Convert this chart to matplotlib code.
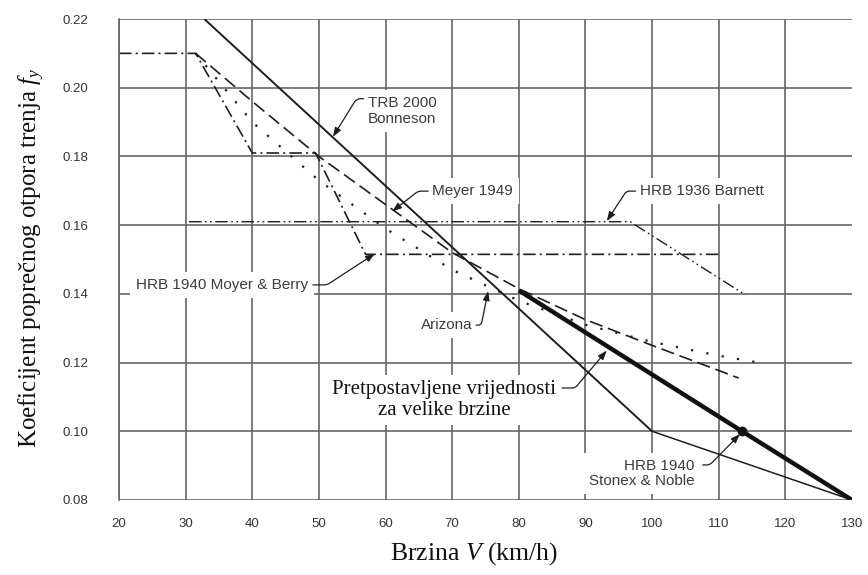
import numpy as np
import matplotlib
matplotlib.use("Agg")
import matplotlib.pyplot as plt

plt.rcParams["font.family"] = ["Liberation Sans", "DejaVu Sans"]
plt.rcParams["mathtext.fontset"] = "custom"
plt.rcParams["mathtext.rm"] = "Liberation Serif"
plt.rcParams["mathtext.it"] = "Liberation Serif:italic"

# ---- data ----
x_ticks = [20, 30, 40, 50, 60, 70, 80, 90, 100, 110, 120, 130]
y_ticks = [0.08, 0.10, 0.12, 0.14, 0.16, 0.18, 0.20, 0.22]

trb_x = [32.8, 100]
trb_y = [0.22, 0.10]
stonex_x = [100, 130]
stonex_y = [0.10, 0.08]
assumed_x = [80, 113.5, 130]
assumed_y = [0.141, 0.100, 0.080]
barnett_x = [30.5, 96.7, 114]
barnett_y = [0.161, 0.161, 0.1397]
moyer_x = [20, 31.5, 40, 49.5, 57, 110.5]
moyer_y = [0.21, 0.21, 0.181, 0.181, 0.1515, 0.1515]
meyer_x = [31.5, 40, 50, 60, 70, 80, 90, 100, 113]
meyer_y = [0.21, 0.196, 0.18, 0.166, 0.152, 0.1415, 0.1325, 0.125, 0.1155]
arizona_x = [31.5, 40, 50, 60, 70, 80, 90, 100, 110, 116]
arizona_y = [0.21, 0.19, 0.173, 0.159, 0.147, 0.138, 0.131, 0.126, 0.122, 0.12]

W, H = 868, 575
fig = plt.figure(figsize=(W / 100, H / 100), dpi=100)
ax = fig.add_axes([119 / W, 75 / H, 733 / W, 481 / H])

gridc = "#666666"
linec = "#1e1e1e"
textc = "#3c3c3c"

ax.set_xlim(20, 130)
ax.set_ylim(0.08, 0.22)
ax.set_xticks(x_ticks)
ax.set_yticks(y_ticks)
ax.set_xticklabels([str(v) for v in x_ticks])
ax.set_yticklabels(["%.2f" % v for v in y_ticks])
ax.tick_params(length=0, labelsize=9.5, labelcolor="#333333")
ax.tick_params(axis="x", pad=13)
ax.tick_params(axis="y", pad=22)
ax.set_axisbelow(True)
ax.grid(True, color=gridc, lw=1.2)
ax.xaxis.get_major_ticks()[-1].gridline.set_visible(False)
for s in ["top", "right", "bottom"]:
    ax.spines[s].set_visible(False)
ax.spines["left"].set_color(gridc)
ax.spines["left"].set_linewidth(1.2)

# ---- lines ----
ax.plot(trb_x, trb_y, color=linec, lw=1.4, zorder=2, solid_capstyle="butt")
ax.plot(stonex_x, stonex_y, color=linec, lw=1.1, zorder=2)
ax.plot(assumed_x, assumed_y, color="#111111", lw=3.2, zorder=2,
        marker="o", markersize=6, markevery=[1], solid_capstyle="butt")
ax.plot(barnett_x, barnett_y, color=linec, lw=1.0, zorder=2,
        linestyle=(0, (9, 2.5, 1.2, 2.5, 1.2, 2.5)))
ax.plot(moyer_x, moyer_y, color=linec, lw=1.2, zorder=2,
        linestyle=(0, (7.5, 2.5, 1.2, 2.5)))
ax.plot(meyer_x, meyer_y, color=linec, lw=1.2, zorder=2,
        linestyle=(0, (8, 3.5)))
ax.plot(arizona_x, arizona_y, color=linec, lw=1.6, zorder=2,
        linestyle=(0, (1, 6)))

# ---- labels with leaders ----
box = dict(boxstyle="square,pad=0.4", fc="white", ec="none")
sans = dict(fontsize=11, color=textc, zorder=3, bbox=box)


def leader(start, tip, angle, arm, rad=3):
    ax.annotate("", xy=tip, xytext=start, zorder=4,
                arrowprops=dict(arrowstyle="-|>,head_length=0.55,head_width=0.2",
                                mutation_scale=10, color=linec, lw=0.9,
                                shrinkA=0, shrinkB=0,
                                connectionstyle="arc,angleA=%d,armA=%g,angleB=0,armB=0,rad=%g"
                                % (angle, arm, rad)))


ax.text(57.4, 0.1932, "TRB 2000\nBonneson", ha="left", va="center",
        linespacing=1.15, **sans)
leader((56.7, 0.1968), (52.1, 0.1857), 180, 7, 4)

ax.text(67.0, 0.1699, "Meyer 1949", ha="left", va="center", **sans)
leader((66.4, 0.1699), (61.0, 0.1640), 180, 10)

ax.text(98.2, 0.1699, "HRB 1936 Barnett", ha="left", va="center", **sans)
leader((97.5, 0.1699), (93.2, 0.1612), 180, 9)

ax.text(48.4, 0.1426, "HRB 1940 Moyer & Berry", ha="right", va="center", **sans)
leader((49.1, 0.1426), (58.4, 0.1517), 0, 14)

ax.text(73.0, 0.1309, "Arizona", ha="right", va="center", **sans)
leader((73.6, 0.1309), (75.4, 0.1408), 0, 5)

ax.text(68.8, 0.1091, "Pretpostavljene vrijednosti\nza velike brzine",
        ha="center", va="center", fontsize=15, family="Liberation Serif",
        color="#111111", linespacing=1.1, zorder=3,
        bbox=dict(boxstyle="square,pad=0.25", fc="white", ec="none"))
leader((86.5, 0.1126), (93.2, 0.1235), 0, 13)

ax.text(106.4, 0.0877, "HRB 1940\nStonex & Noble", ha="right", va="center",
        linespacing=1.1, **sans)
leader((107.6, 0.0902), (113.2, 0.0992), 0, 7)

# ---- axis labels ----
ax.set_xlabel("Brzina $V$ (km/h)", family="Liberation Serif", fontsize=18.5,
              color="#111111")
ax.xaxis.set_label_coords(0.484, -0.083)
ax.set_ylabel("Koeficijent poprečnog otpora trenja $f_y$",
              family="Liberation Serif", fontsize=18, color="#111111")
ax.yaxis.set_label_coords(-0.098, 0.503)

fig.savefig("out.png", dpi=100)
